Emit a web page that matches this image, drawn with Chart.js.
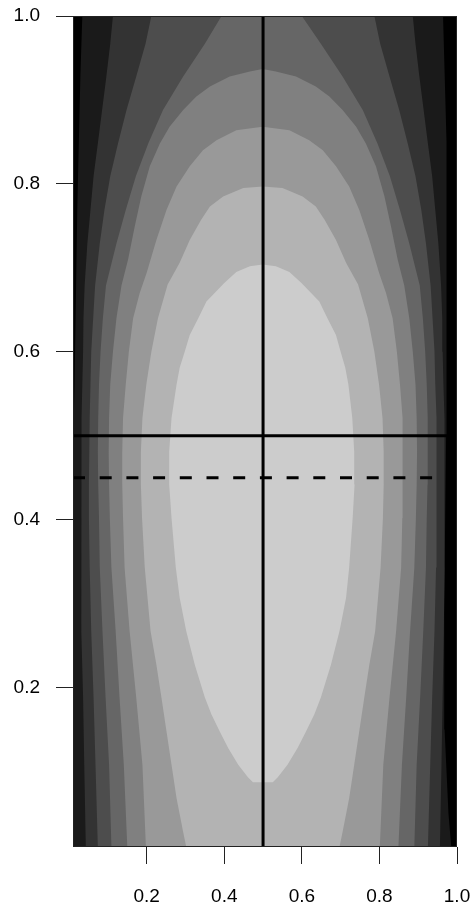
<!DOCTYPE html>
<html>
<head>
<meta charset="utf-8">
<script src="https://cdn.jsdelivr.net/npm/chart.js@4/dist/chart.umd.min.js"></script>
<style>
  html, body { margin: 0; padding: 0; background: #fff; overflow: hidden; }
  canvas { display: block; }
</style>
</head>
<body>
<canvas id="chart" width="473" height="908"></canvas>
<script>
// axis ranges and ticks
const xRange = [0.01, 1.0];
const yRange = [0.01, 1.0];
const xTicks = [0.2, 0.4, 0.6, 0.8, 1.0];
const yTicks = [0.2, 0.4, 0.6, 0.8, 1.0];

// gray levels, darkest (background) to lightest
const bandColors = ['#000000', '#1a1a1a', '#333333', '#4d4d4d', '#666666', '#808080', '#999999', '#b3b3b3', '#cccccc'];

// outline of each band (region at or above that level) as [x, y]
const band1 = [[0.034,1.0],[0.029,0.928],[0.025,0.848],[0.021,0.769],[0.018,0.679],[0.014,0.561],[0.010,0.48],[0.0,0.40],[0.0,0.0],
  [0.987,0.0],[0.978,0.05],[0.968,0.15],[0.967,0.3],[0.972,0.5],[0.974,0.7],[0.972,0.85],[0.964,1.0]];
const band2 = [[0.113,1.0],[0.106,0.967],[0.096,0.928],[0.085,0.888],[0.074,0.848],[0.063,0.809],[0.055,0.769],[0.047,0.729],[0.040,0.679],[0.037,0.640],[0.036,0.600],[0.034,0.561],[0.032,0.521],[0.031,0.481],[0.031,0.442],[0.031,0.402],[0.031,0.343],[0.033,0.267],[0.036,0.188],[0.039,0.108],[0.043,0.01],
  [0.956,0.01],[0.960,0.108],[0.963,0.188],[0.966,0.267],[0.968,0.343],[0.968,0.402],[0.968,0.442],[0.968,0.481],[0.967,0.521],[0.965,0.561],[0.963,0.600],[0.962,0.640],[0.959,0.679],[0.952,0.729],[0.944,0.769],[0.936,0.809],[0.925,0.848],[0.914,0.888],[0.903,0.928],[0.893,0.967],[0.886,1.0]];
const band3 = [[0.212,1.0],[0.197,0.967],[0.173,0.928],[0.148,0.888],[0.126,0.848],[0.106,0.809],[0.091,0.769],[0.079,0.729],[0.067,0.679],[0.062,0.640],[0.057,0.600],[0.055,0.561],[0.053,0.521],[0.052,0.481],[0.051,0.442],[0.051,0.402],[0.053,0.343],[0.057,0.267],[0.063,0.188],[0.068,0.108],[0.074,0.01],
  [0.925,0.01],[0.931,0.108],[0.936,0.188],[0.942,0.267],[0.946,0.343],[0.948,0.402],[0.948,0.442],[0.947,0.481],[0.946,0.521],[0.944,0.561],[0.942,0.600],[0.937,0.640],[0.932,0.679],[0.920,0.729],[0.908,0.769],[0.893,0.809],[0.873,0.848],[0.851,0.888],[0.826,0.928],[0.802,0.967],[0.787,1.0]];
const band4 = [[0.393,1.0],[0.350,0.967],[0.294,0.928],[0.242,0.888],[0.204,0.848],[0.172,0.809],[0.146,0.769],[0.122,0.729],[0.095,0.679],[0.087,0.640],[0.081,0.600],[0.077,0.561],[0.075,0.521],[0.074,0.481],[0.075,0.442],[0.077,0.402],[0.079,0.343],[0.086,0.267],[0.094,0.188],[0.103,0.108],[0.109,0.01],
  [0.890,0.01],[0.896,0.108],[0.905,0.188],[0.913,0.267],[0.920,0.343],[0.922,0.402],[0.924,0.442],[0.925,0.481],[0.924,0.521],[0.922,0.561],[0.918,0.600],[0.912,0.640],[0.904,0.679],[0.877,0.729],[0.853,0.769],[0.827,0.809],[0.795,0.848],[0.757,0.888],[0.705,0.928],[0.649,0.967],[0.600,1.0]];
const band5 = [[0.499,0.937],[0.466,0.934],[0.414,0.928],[0.363,0.916],[0.328,0.904],[0.294,0.888],[0.259,0.868],[0.234,0.848],[0.208,0.821],[0.186,0.785],[0.169,0.749],[0.152,0.710],[0.135,0.679],[0.122,0.640],[0.113,0.600],[0.106,0.561],[0.103,0.521],[0.102,0.481],[0.103,0.442],[0.105,0.402],[0.109,0.343],[0.120,0.267],[0.130,0.188],[0.141,0.108],[0.150,0.01],
  [0.849,0.01],[0.858,0.108],[0.869,0.188],[0.879,0.267],[0.890,0.343],[0.894,0.402],[0.896,0.442],[0.897,0.481],[0.896,0.521],[0.893,0.561],[0.886,0.600],[0.877,0.640],[0.864,0.679],[0.847,0.710],[0.830,0.749],[0.813,0.785],[0.791,0.821],[0.765,0.848],[0.740,0.868],[0.705,0.888],[0.671,0.904],[0.636,0.916],[0.585,0.928],[0.533,0.934]];
const band6 = [[0.499,0.868],[0.431,0.864],[0.380,0.852],[0.345,0.840],[0.311,0.821],[0.277,0.797],[0.251,0.769],[0.225,0.733],[0.200,0.694],[0.182,0.670],[0.165,0.640],[0.154,0.600],[0.146,0.561],[0.139,0.521],[0.137,0.481],[0.137,0.442],[0.139,0.402],[0.143,0.343],[0.156,0.267],[0.173,0.188],[0.189,0.108],[0.198,0.01],
  [0.801,0.01],[0.810,0.108],[0.826,0.188],[0.843,0.267],[0.856,0.343],[0.859,0.402],[0.860,0.442],[0.860,0.481],[0.859,0.521],[0.853,0.561],[0.845,0.600],[0.834,0.640],[0.817,0.670],[0.799,0.694],[0.774,0.733],[0.748,0.769],[0.722,0.797],[0.688,0.821],[0.654,0.840],[0.619,0.852],[0.568,0.864]];
const band7 = [[0.499,0.797],[0.449,0.795],[0.397,0.785],[0.363,0.773],[0.340,0.757],[0.311,0.733],[0.285,0.706],[0.254,0.680],[0.229,0.640],[0.212,0.600],[0.199,0.561],[0.189,0.521],[0.185,0.481],[0.185,0.442],[0.188,0.402],[0.195,0.343],[0.210,0.267],[0.225,0.227],[0.238,0.188],[0.251,0.148],[0.264,0.108],[0.277,0.068],[0.294,0.028],[0.302,0.01],
  [0.697,0.01],[0.705,0.028],[0.722,0.068],[0.735,0.108],[0.748,0.148],[0.761,0.188],[0.774,0.227],[0.789,0.267],[0.803,0.343],[0.809,0.402],[0.811,0.442],[0.811,0.481],[0.808,0.521],[0.799,0.561],[0.787,0.600],[0.770,0.640],[0.745,0.680],[0.714,0.706],[0.688,0.733],[0.659,0.757],[0.636,0.773],[0.602,0.785],[0.550,0.795]];
const band8 = [[0.499,0.704],[0.466,0.702],[0.431,0.695],[0.400,0.682],[0.354,0.660],[0.333,0.640],[0.311,0.620],[0.298,0.600],[0.285,0.581],[0.277,0.561],[0.264,0.521],[0.258,0.481],[0.258,0.442],[0.264,0.402],[0.275,0.343],[0.285,0.307],[0.302,0.267],[0.324,0.227],[0.350,0.188],[0.367,0.168],[0.388,0.148],[0.410,0.128],[0.436,0.108],[0.461,0.093],[0.474,0.087],[0.499,0.087],
  [0.525,0.087],[0.538,0.093],[0.563,0.108],[0.589,0.128],[0.611,0.148],[0.632,0.168],[0.649,0.188],[0.675,0.227],[0.697,0.267],[0.714,0.307],[0.722,0.343],[0.731,0.402],[0.736,0.442],[0.735,0.481],[0.730,0.521],[0.720,0.561],[0.712,0.581],[0.700,0.600],[0.688,0.620],[0.666,0.640],[0.645,0.660],[0.599,0.682],[0.568,0.695],[0.533,0.702]];
const bands = [band1, band2, band3, band4, band5, band6, band7, band8];

// reference lines
const trueX = 0.5;
const trueY = 0.5;
const estY = 0.45;

const font = { family: '"Liberation Sans", Arial, sans-serif', size: 19 };

const plotBackground = {
    id: 'plotBackground',
    beforeDatasetsDraw(chart) {
        const { ctx, chartArea } = chart;
        ctx.save();
        ctx.fillStyle = bandColors[0];
        ctx.fillRect(chartArea.left, chartArea.top, chartArea.right - chartArea.left, chartArea.bottom - chartArea.top);
        ctx.restore();
    }
};

const plotFrame = {
    id: 'plotFrame',
    afterDraw(chart) {
        const { ctx, chartArea } = chart;
        ctx.save();
        ctx.strokeStyle = '#222';
        ctx.lineWidth = 1;
        ctx.strokeRect(chartArea.left + 0.5, chartArea.top + 0.5, chartArea.right - chartArea.left - 1, chartArea.bottom - chartArea.top - 1);
        ctx.restore();
    }
};

const toPoints = arr => arr.map(p => ({ x: p[0], y: p[1] }));

const datasets = bands.map((band, i) => ({
    data: toPoints(band),
    showLine: true,
    fill: 'shape',
    backgroundColor: bandColors[i + 1],
    borderWidth: 0,
    pointRadius: 0,
    tension: 0,
    order: bands.length - i + 1
}));

datasets.push({
    data: [{ x: trueX, y: yRange[0] }, { x: trueX, y: yRange[1] }],
    showLine: true, borderColor: '#000', borderWidth: 3, pointRadius: 0, fill: false, order: 0
});
datasets.push({
    data: [{ x: xRange[0], y: trueY }, { x: xRange[1], y: trueY }],
    showLine: true, borderColor: '#000', borderWidth: 3, pointRadius: 0, fill: false, order: 0
});
datasets.push({
    data: [{ x: xRange[0], y: estY }, { x: xRange[1], y: estY }],
    showLine: true, borderColor: '#000', borderWidth: 3, borderDash: [12, 14.7], pointRadius: 0, fill: false, order: 0
});

new Chart(document.getElementById('chart'), {
    type: 'scatter',
    data: { datasets },
    plugins: [plotBackground, plotFrame],
    options: {
        responsive: false,
        animation: false,
        events: [],
        layout: { padding: { top: 16, right: 16, bottom: 0, left: 0 } },
        plugins: { legend: { display: false }, tooltip: { enabled: false } },
        scales: {
            x: {
                type: 'linear',
                min: xRange[0],
                max: xRange[1],
                afterBuildTicks: scale => { scale.ticks = xTicks.map(v => ({ value: v })); },
                afterFit: scale => {
                    // keep the plot edge where the picture has it
                    scale.height = 61;
                    scale.paddingLeft = 0;
                    scale.paddingRight = 0;
                },
                grid: { drawOnChartArea: false, tickLength: 17, tickColor: '#222', tickWidth: 1 },
                border: { display: false },
                ticks: { color: '#000', font, padding: 21, maxRotation: 0, autoSkip: false, callback: v => v.toFixed(1) }
            },
            y: {
                type: 'linear',
                min: yRange[0],
                max: yRange[1],
                afterBuildTicks: scale => { scale.ticks = yTicks.map(v => ({ value: v })); },
                afterFit: scale => {
                    scale.width = 73;
                    scale.paddingTop = 0;
                    scale.paddingBottom = 0;
                },
                grid: { drawOnChartArea: false, tickLength: 17, tickColor: '#222', tickWidth: 1 },
                border: { display: false },
                ticks: { color: '#000', font, padding: 16, autoSkip: false, callback: v => v.toFixed(1) }
            }
        }
    }
});
</script>
</body>
</html>
